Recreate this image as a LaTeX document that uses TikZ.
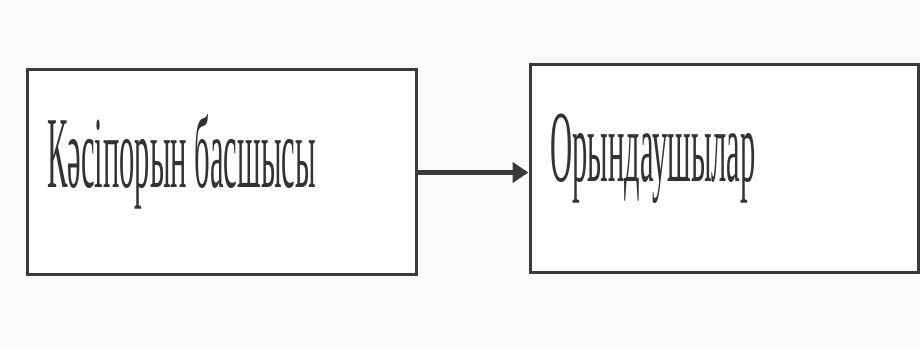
\documentclass[tikz,border=0pt]{standalone}
\usepackage{fontspec}
\usepackage{xcolor}
\usetikzlibrary{calc,arrows.meta,positioning}
\newfontfamily\narrowserif[FakeStretch=0.30]{Liberation Serif}
\definecolor{paper}{HTML}{FAFAFA}
\definecolor{ink}{HTML}{3A3A3A}
\definecolor{inktext}{HTML}{333333}
\tikzset{
  box/.style={draw=ink, fill=white, line width=3pt, minimum width=389pt, minimum height=205pt, inner sep=0pt},
  lbl/.style={text=inktext, font=\narrowserif\fontsize{102pt}{102pt}\selectfont, inner sep=0pt, anchor=base west},
  link/.style={draw=ink, line width=5pt, -{Triangle[length=16pt,width=20pt]}},
}

\begin{document}
\begin{tikzpicture}[x=1pt,y=1pt]
  \useasboundingbox[fill=paper] (0,0) rectangle (920,347);
  \node[box] (kasip) at (221.5,174.5) {};
  \node[box,minimum width=388pt,minimum height=208pt] (oryn) at (724,178) {};
  \node[lbl] (kasiptxt) at (47,159) {Кәсіпорын басшысы};
  \node[lbl] (oryntxt) at (550,165) {Орындаушылар};
  \draw[link] (kasip.east) -- (kasip.east -| oryn.west);
\end{tikzpicture}
\end{document}
